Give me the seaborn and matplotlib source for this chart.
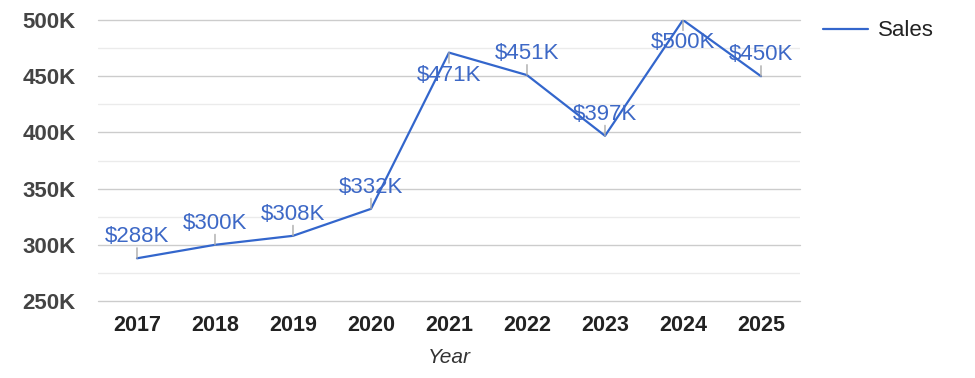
import pandas as pd
import matplotlib.pyplot as plt
import seaborn as sns
from matplotlib.ticker import MultipleLocator, FuncFormatter

YEARS = ['2017', '2018', '2019', '2020', '2021', '2022', '2023', '2024', '2025']
SALES = [288, 300, 308, 332, 471, 451, 397, 500, 450]  # thousands of $
LABELS = ['$288K', '$300K', '$308K', '$332K', '$471K', '$451K', '$397K', '$500K', '$450K']

LINE_COLOR = '#3366cc'
TEXT_BLUE = '#3d68c6'

sns.set_style('white')
plt.rcParams['font.family'] = ['Liberation Sans', 'DejaVu Sans']

df = pd.DataFrame({'Year': YEARS, 'Sales': SALES})

fig = plt.figure(figsize=(9.75, 3.78), dpi=100)
ax = fig.add_axes([0.1005, 0.2037, 0.72, 0.7433])

sns.lineplot(data=df, x='Year', y='Sales', color=LINE_COLOR, linewidth=1.6,
             label='Sales', ax=ax)

ax.set_xlim(-0.5, len(YEARS) - 0.5)
ax.set_ylim(250, 500)
ax.yaxis.set_major_locator(MultipleLocator(50))
ax.yaxis.set_minor_locator(MultipleLocator(25))
ax.yaxis.set_major_formatter(FuncFormatter(lambda v, p: f'{int(v)}K'))
ax.grid(axis='y', which='major', color='#cccccc', linewidth=1)
ax.grid(axis='y', which='minor', color='#ebebeb', linewidth=1)
ax.set_axisbelow(True)
for g in ax.get_ygridlines():
    g.set_clip_on(False)
for s in ax.spines.values():
    s.set_visible(False)

ax.tick_params(axis='y', which='both', length=0, pad=16, labelsize=16, labelcolor='#444444')
ax.tick_params(axis='x', length=0, pad=10, labelsize=15.5, labelcolor='#222222')
for t in ax.get_yticklabels() + ax.get_xticklabels():
    t.set_fontweight('bold')

ax.set_ylabel('')
ax.set_xlabel('Year', fontsize=15, fontstyle='italic', color='#333333', labelpad=9)

# data labels with small leader lines; flip below near the top edge
for i, (v, lab) in enumerate(zip(SALES, LABELS)):
    sign = -1 if v > 460 else 1
    ax.annotate('', xy=(i, v), xytext=(0, sign * 7.5), textcoords='offset points',
                arrowprops=dict(arrowstyle='-', color='#aaaaaa', lw=1,
                                shrinkA=0, shrinkB=0), annotation_clip=False)
    ax.annotate(lab, xy=(i, v), xytext=(0, 15.5 if sign > 0 else -16.5),
                textcoords='offset points', ha='center', va='center',
                fontsize=16, color=TEXT_BLUE, annotation_clip=False)

leg = ax.legend(loc='upper left', bbox_to_anchor=(1.005, 1.07), frameon=False,
                fontsize=16, handlelength=2.0, handletextpad=0.45)
for t in leg.get_texts():
    t.set_color('#222222')

plt.savefig('out.png', dpi=100)
plt.close()
